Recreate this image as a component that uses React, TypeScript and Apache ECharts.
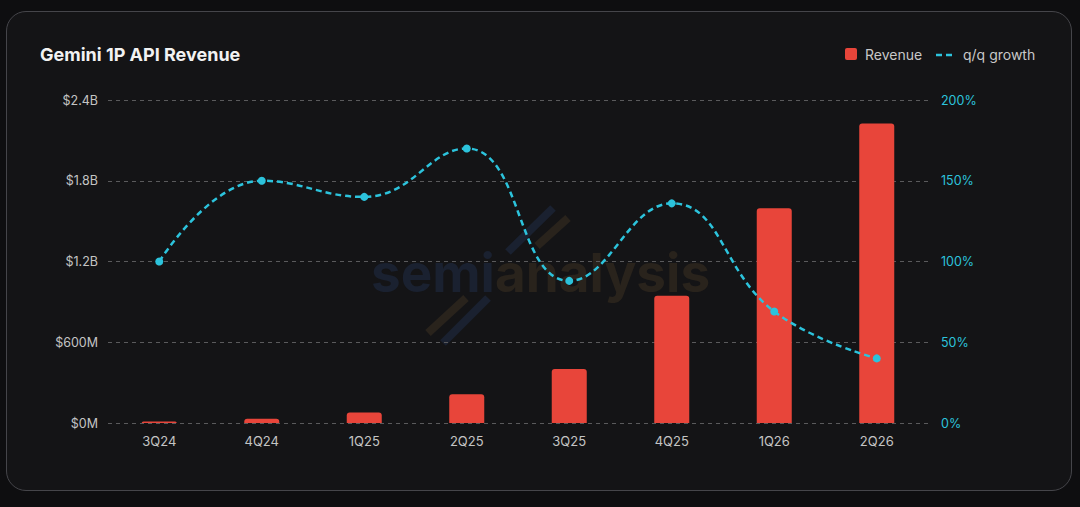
import React, { useEffect, useRef } from "react";
import * as echarts from "echarts";

const categories = ["3Q24", "4Q24", "1Q25", "2Q25", "3Q25", "4Q25", "1Q26", "2Q26"];
const revenueM = [12, 32, 78, 213, 402, 945, 1595, 2225];
const growthPct = [100, 150, 140, 170, 88, 136, 69, 40];
const leftTicksMax = 2400;
const leftInterval = 600;
const rightTicksMax = 200;
const rightInterval = 50;
const titleText = "Gemini 1P API Revenue";
const legendNames = ["Revenue", "q/q growth"];

const FONT = "Inter, 'Noto Sans', sans-serif";
const RED = "#e8453a";
const CYAN = "#2cc3dc";

export default function App() {
  const ref = useRef<HTMLDivElement>(null);
  useEffect(() => {
    if (!ref.current) return;
    const chart = echarts.init(ref.current, null, { renderer: "svg" });
    chart.setOption({
      animation: false,
      backgroundColor: "transparent",
      textStyle: { fontFamily: FONT },
      title: {
        text: titleText,
        left: 35,
        top: 40,
        textStyle: { color: "#f2f2f2", fontSize: 18, fontWeight: "bold", fontFamily: FONT },
      },
      grid: { left: 108, right: 152, top: 100, bottom: 84 },
      xAxis: {
        type: "category",
        data: categories,
        axisLine: { show: false },
        axisTick: { show: false },
        axisLabel: { color: "#c4c4c4", fontSize: 13, margin: 11, fontFamily: FONT },
      },
      yAxis: [
        {
          type: "value",
          min: 0,
          max: leftTicksMax,
          interval: leftInterval,
          axisLine: { show: false },
          axisTick: { show: false },
          splitLine: { lineStyle: { color: "#5a5a5c", type: [4, 4], width: 1 } },
          axisLabel: {
            color: "#c4c4c4",
            fontSize: 12.5,
            margin: 10,
            fontFamily: FONT,
            formatter: (v: number) => (v >= 1000 ? `$${v / 1000}B` : `$${v}M`),
          },
        },
        {
          type: "value",
          min: 0,
          max: rightTicksMax,
          interval: rightInterval,
          axisLine: { show: false },
          axisTick: { show: false },
          splitLine: { show: false },
          axisLabel: {
            color: CYAN,
            fontSize: 12.5,
            margin: 13,
            fontFamily: FONT,
            formatter: (v: number) => `${v}%`,
          },
        },
      ],
      graphic: [
        {
          type: "text",
          left: 371,
          top: 246,
          z: 0,
          silent: true,
          style: {
            text: "{a|semi}{b|analysis}",
            rich: {
              a: { fill: "#1a2130", fontSize: 53, fontWeight: "bold", fontFamily: FONT },
              b: { fill: "#29231c", fontSize: 53, fontWeight: "bold", fontFamily: FONT },
            },
          },
        },
        { type: "line", z: 0, silent: true, shape: { x1: 508, y1: 252, x2: 553, y2: 208 }, style: { stroke: "#1a2130", lineWidth: 8 } },
        { type: "line", z: 0, silent: true, shape: { x1: 537, y1: 246, x2: 568, y2: 218 }, style: { stroke: "#29231c", lineWidth: 8 } },
        { type: "line", z: 0, silent: true, shape: { x1: 428, y1: 333, x2: 466, y2: 298 }, style: { stroke: "#29231c", lineWidth: 8 } },
        { type: "line", z: 0, silent: true, shape: { x1: 443, y1: 343, x2: 488, y2: 298 }, style: { stroke: "#1a2130", lineWidth: 8 } },
        // legend
        { type: "rect", shape: { x: 845, y: 48, width: 12, height: 12, r: 2 }, style: { fill: RED } },
        {
          type: "text",
          x: 865,
          y: 54,
          style: { text: legendNames[0], fill: "#c8c8c8", fontSize: 14, fontFamily: FONT, verticalAlign: "middle" },
        },
        { type: "line", shape: { x1: 936, y1: 55, x2: 942, y2: 55 }, style: { stroke: CYAN, lineWidth: 2.5 } },
        { type: "line", shape: { x1: 946, y1: 55, x2: 952, y2: 55 }, style: { stroke: CYAN, lineWidth: 2.5 } },
        {
          type: "text",
          x: 963,
          y: 54,
          style: { text: legendNames[1], fill: "#c8c8c8", fontSize: 14, fontFamily: FONT, verticalAlign: "middle" },
        },
      ],
      series: [
        {
          name: legendNames[0],
          type: "bar",
          data: revenueM,
          barWidth: 35,
          itemStyle: { color: RED, borderRadius: [3, 3, 0, 0] },
          z: 2,
        },
        {
          name: legendNames[1],
          type: "line",
          yAxisIndex: 1,
          data: growthPct,
          smooth: 0.45,
          symbol: "circle",
          symbolSize: 8,
          itemStyle: { color: CYAN },
          lineStyle: { color: CYAN, width: 2.5, type: [6, 4] },
          z: 3,
        },
      ],
    });
    return () => chart.dispose();
  }, []);

  return (
    <div style={{ position: "fixed", left: 0, top: 0, width: 1080, height: 507, background: "#0e0e10", overflow: "hidden" }}>
      <div
        style={{
          position: "absolute",
          left: 6,
          top: 11,
          width: 1064,
          height: 478,
          background: "#141416",
          border: "1px solid #45454a",
          borderRadius: 20,
        }}
      />
      <div ref={ref} style={{ position: "absolute", left: 0, top: 0, width: 1080, height: 507 }} />
    </div>
  );
}
